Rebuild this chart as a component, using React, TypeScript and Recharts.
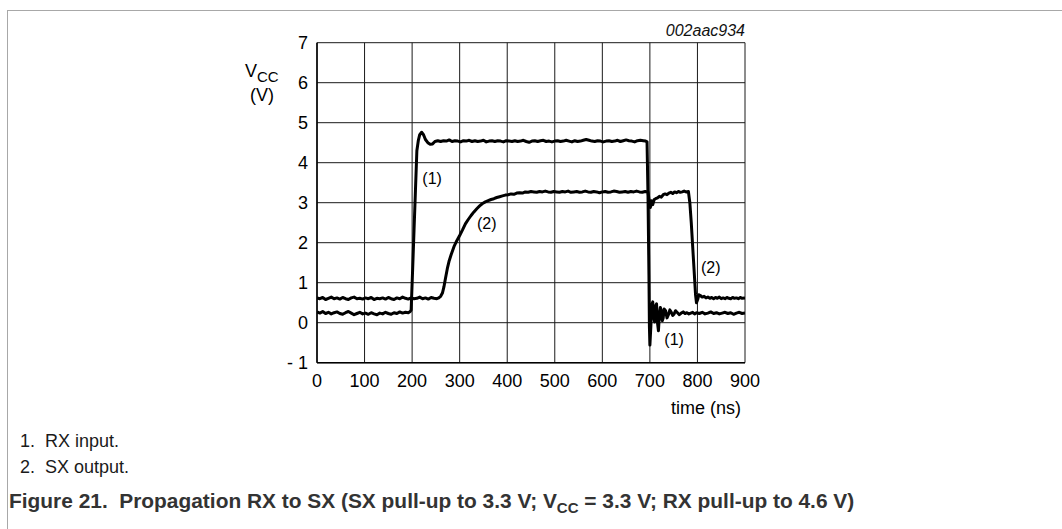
import React from "react";
import { LineChart, Line, XAxis, YAxis, CartesianGrid, ReferenceDot } from "recharts";

// RX input (1): time in ns, voltage in V
const rxTime = [
  0, 6, 12, 18, 24, 30, 36, 42, 48, 54, 60, 66, 72, 78, 84, 90, 96, 102, 108, 114, 120, 126, 132, 138, 144, 150,
  156, 162, 168, 174, 180, 186, 192, 196, 198, 201, 204, 207, 210, 213, 216, 220, 224, 228, 233, 238, 243, 248,
  254, 260, 266, 272, 278, 284, 290, 296, 302, 308, 314, 320, 326, 332, 338, 344, 350, 356, 362, 368, 374, 380,
  386, 392, 398, 404, 410, 416, 422, 428, 434, 440, 446, 452, 458, 464, 470, 476, 482, 488, 494, 500, 506, 512,
  518, 524, 530, 536, 542, 548, 554, 560, 566, 572, 578, 584, 590, 596, 602, 608, 614, 620, 626, 632, 638, 644,
  650, 656, 662, 668, 674, 680, 686, 691, 694, 696, 698, 699, 700, 702, 704, 706, 708, 710, 712, 714, 716, 718,
  720, 722, 724, 726, 728, 730, 733, 736, 739, 742, 745, 748, 751, 754, 758, 762, 766, 770, 774, 778, 782, 786,
  790, 794, 798, 804, 810, 816, 822, 828, 834, 840, 846, 852, 858, 864, 870, 876, 882, 888, 894, 900,
];
const rxVolt = [
  0.27, 0.24, 0.28, 0.23, 0.26, 0.22, 0.25, 0.27, 0.23, 0.21, 0.25, 0.28, 0.24, 0.2, 0.23, 0.26, 0.22, 0.24, 0.21,
  0.25, 0.22, 0.2, 0.24, 0.22, 0.26, 0.23, 0.21, 0.25, 0.23, 0.27, 0.24, 0.26, 0.25, 0.28, 0.32, 1.3, 2.3, 3.3,
  4.3, 4.55, 4.7, 4.76, 4.7, 4.58, 4.5, 4.46, 4.47, 4.53, 4.55, 4.53, 4.55, 4.54, 4.57, 4.53, 4.55, 4.54, 4.52,
  4.55, 4.54, 4.56, 4.53, 4.55, 4.53, 4.54, 4.56, 4.52, 4.54, 4.55, 4.53, 4.55, 4.54, 4.52, 4.55, 4.54, 4.53,
  4.55, 4.53, 4.54, 4.56, 4.53, 4.51, 4.54, 4.55, 4.53, 4.55, 4.56, 4.53, 4.54, 4.52, 4.54, 4.55, 4.53, 4.54,
  4.56, 4.54, 4.52, 4.55, 4.53, 4.54, 4.56, 4.58, 4.56, 4.54, 4.53, 4.55, 4.54, 4.52, 4.54, 4.55, 4.53, 4.54,
  4.56, 4.53, 4.55, 4.57, 4.55, 4.54, 4.52, 4.55, 4.56, 4.55, 4.54, 4.52, 3.2, 1.2, -0.1, -0.56, -0.1, 0.45,
  0.52, 0.15, 0.02, 0.42, 0.47, 0.0, -0.2, 0.2, 0.38, 0.3, 0.05, 0.12, 0.34, 0.3, 0.12, 0.2, 0.32, 0.26, 0.18,
  0.22, 0.3, 0.25, 0.2, 0.24, 0.27, 0.23, 0.25, 0.22, 0.24, 0.26, 0.22, 0.25, 0.23, 0.26, 0.22, 0.24, 0.27, 0.23,
  0.25, 0.22, 0.24, 0.26, 0.23, 0.25, 0.21, 0.24, 0.26, 0.23, 0.24,
];

// SX output (2)
const sxTime = [
  0, 6, 12, 18, 24, 30, 36, 42, 48, 54, 60, 66, 72, 78, 84, 90, 96, 102, 108, 114, 120, 126, 132, 138, 144, 150,
  156, 162, 168, 174, 180, 186, 192, 198, 204, 210, 216, 222, 228, 234, 240, 246, 252, 256, 260, 264, 267, 270,
  274, 278, 282, 288, 294, 300, 306, 312, 318, 324, 330, 336, 342, 348, 354, 360, 366, 372, 378, 384, 390, 396,
  402, 408, 414, 420, 426, 432, 438, 444, 450, 456, 462, 468, 474, 480, 486, 492, 498, 504, 510, 516, 522, 528,
  534, 540, 546, 552, 558, 564, 570, 576, 582, 588, 594, 600, 606, 612, 618, 624, 630, 636, 642, 648, 654, 660,
  666, 672, 678, 684, 690, 696, 699, 701, 703, 706, 709, 712, 716, 720, 724, 728, 732, 736, 740, 744, 748, 752,
  756, 760, 764, 768, 772, 776, 781, 784, 787, 790, 793, 796, 798, 801, 803, 806, 810, 814, 818, 822, 826, 830,
  834, 838, 842, 846, 850, 854, 858, 862, 866, 870, 874, 878, 882, 886, 890, 894, 900,
];
const sxVolt = [
  0.62, 0.6, 0.63, 0.58, 0.61, 0.64, 0.6, 0.62, 0.59, 0.63, 0.6, 0.58, 0.62, 0.64, 0.6, 0.61, 0.59, 0.62, 0.6,
  0.63, 0.58, 0.61, 0.6, 0.62, 0.59, 0.63, 0.6, 0.58, 0.62, 0.6, 0.64, 0.61, 0.59, 0.62, 0.6, 0.61, 0.64, 0.6,
  0.62, 0.59, 0.63, 0.61, 0.6, 0.62, 0.66, 0.75, 0.9, 1.1, 1.35, 1.55, 1.7, 1.9, 2.05, 2.18, 2.32, 2.47, 2.58,
  2.68, 2.77, 2.85, 2.92, 2.98, 3.02, 3.05, 3.08, 3.1, 3.13, 3.15, 3.17, 3.19, 3.2, 3.22, 3.21, 3.24, 3.25, 3.24,
  3.27, 3.26, 3.28, 3.27, 3.26, 3.28, 3.27, 3.29, 3.27, 3.26, 3.28, 3.27, 3.26, 3.28, 3.27, 3.29, 3.26, 3.27,
  3.28, 3.26, 3.27, 3.29, 3.27, 3.26, 3.28, 3.27, 3.25, 3.27, 3.28, 3.26, 3.27, 3.29, 3.28, 3.26, 3.27, 3.28,
  3.26, 3.28, 3.27, 3.29, 3.27, 3.26, 3.28, 3.27, 3.0, 2.88, 3.05, 2.95, 3.08, 3.1, 3.12, 3.16, 3.14, 3.2, 3.22,
  3.2, 3.24, 3.26, 3.23, 3.27, 3.25, 3.28, 3.26, 3.27, 3.29, 3.27, 3.28, 3.0, 2.5, 1.9, 1.3, 0.7, 0.5, 0.6, 0.7,
  0.68, 0.64, 0.66, 0.62, 0.64, 0.61, 0.63, 0.6, 0.63, 0.61, 0.64, 0.6, 0.62, 0.6, 0.63, 0.61, 0.6, 0.63, 0.61,
  0.62, 0.6, 0.63, 0.61, 0.62,
];

const xTicks = [0, 100, 200, 300, 400, 500, 600, 700, 800, 900];
const yTicks = [-1, 0, 1, 2, 3, 4, 5, 6, 7];

const annotationLabels = ["(1)", "(2)", "(2)", "(1)"];
const annotationTime = [242, 357, 828, 751];
const annotationVolt = [3.62, 2.49, 1.39, -0.41];

const legendItems = ["1.  RX input.", "2.  SX output."];
const figureId = "002aac934";
const yLabel = "V";
const yLabelSub = "CC";
const yUnit = "(V)";
const xLabel = "time (ns)";

const rxData = rxTime.map((t, i) => ({ t, v: rxVolt[i] }));
const sxData = sxTime.map((t, i) => ({ t, v: sxVolt[i] }));

const font = "'Liberation Sans', Arial, Helvetica, sans-serif";

export default function App() {
  return (
    <div
      style={{
        position: "absolute",
        left: 0,
        top: 0,
        width: 1062,
        height: 529,
        background: "#fff",
        fontFamily: font,
        overflow: "hidden",
      }}
    >
      <div
        style={{
          position: "absolute",
          left: 7,
          top: 10,
          width: 1062,
          height: 529,
          borderLeft: "1.5px solid #a8a8a8",
          borderTop: "1.5px solid #a8a8a8",
        }}
      />
      <div style={{ position: "absolute", left: 0, top: 0 }}>
        <LineChart
          width={1062}
          height={529}
          margin={{ top: 42.7, right: 317, bottom: 136.3, left: 257 }}
        >
          <CartesianGrid stroke="#1a1a1a" strokeWidth={1} />
          <XAxis
            dataKey="t"
            type="number"
            domain={[0, 900]}
            ticks={xTicks}
            allowDataOverflow
            height={30}
            tickLine={false}
            tickSize={6}
            tickMargin={6}
            axisLine={{ stroke: "#000", strokeWidth: 1.5 }}
            tick={{ fill: "#000", fontSize: 18 }}
            interval={0}
          />
          <YAxis
            type="number"
            domain={[-1, 7]}
            ticks={yTicks}
            allowDataOverflow
            width={60}
            tickLine={false}
            tickSize={6}
            tickMargin={3}
            axisLine={{ stroke: "#000", strokeWidth: 1.5 }}
            tick={{ fill: "#000", fontSize: 18 }}
            tickFormatter={(v: number) => (v < 0 ? "- " + Math.abs(v) : String(v))}
            interval={0}
          />
          <Line
            data={sxData}
            dataKey="v"
            type="linear"
            stroke="#000"
            strokeWidth={3}
            dot={false}
            isAnimationActive={false}
            strokeLinejoin="round"
          />
          <Line
            data={rxData}
            dataKey="v"
            type="linear"
            stroke="#000"
            strokeWidth={3}
            dot={false}
            isAnimationActive={false}
            strokeLinejoin="round"
          />
          {annotationLabels.map((lab, i) => (
            <ReferenceDot
              key={i}
              x={annotationTime[i]}
              y={annotationVolt[i]}
              r={0}
              fill="none"
              stroke="none"
              ifOverflow="visible"
              label={{ value: lab, position: "center", fontSize: 16, fill: "#000" }}
            />
          ))}
        </LineChart>
      </div>
      <div
        style={{
          position: "absolute",
          right: 317,
          top: 23,
          fontSize: 16,
          lineHeight: "16px",
          fontStyle: "italic",
          color: "#111",
        }}
      >
        {figureId}
      </div>
      <div
        style={{ position: "absolute", left: 245, top: 62, fontSize: 18, lineHeight: "18px", color: "#000", whiteSpace: "nowrap" }}
      >
        {yLabel}
        <span style={{ fontSize: 15, position: "relative", top: 5 }}>{yLabelSub}</span>
      </div>
      <div style={{ position: "absolute", left: 250, top: 86, fontSize: 18, lineHeight: "18px", color: "#000" }}>
        {yUnit}
      </div>
      <div
        style={{ position: "absolute", right: 321, top: 399, fontSize: 18, lineHeight: "18px", color: "#000", whiteSpace: "nowrap" }}
      >
        {xLabel}
      </div>
      {legendItems.map((txt, i) => (
        <div
          key={i}
          style={{
            position: "absolute",
            left: 20,
            top: 432 + i * 26,
            fontSize: 18,
            lineHeight: "18px",
            color: "#1a1a1a",
            whiteSpace: "pre",
          }}
        >
          {txt}
        </div>
      ))}
      <div
        style={{
          position: "absolute",
          left: 9,
          top: 491,
          fontSize: 20.9,
          lineHeight: "20px",
          fontWeight: "bold",
          color: "#333",
          whiteSpace: "pre",
        }}
      >
        {"Figure 21.  Propagation RX to SX (SX pull-up to 3.3 V; V"}
        <span style={{ fontSize: 15, position: "relative", top: 5 }}>CC</span>
        {" = 3.3 V; RX pull-up to 4.6 V)"}
      </div>
    </div>
  );
}
